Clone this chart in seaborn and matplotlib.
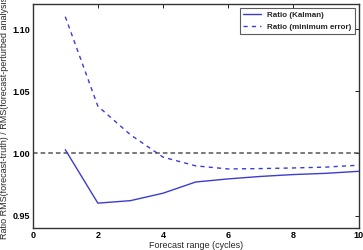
import seaborn as sns
import matplotlib.pyplot as plt
import pandas as pd
import numpy as np

cycles = [1, 2, 3, 4, 5, 6, 7, 8, 9, 10]
ratio_kalman = [1.003, 0.960, 0.962, 0.968, 0.977, 0.9795, 0.9815, 0.983, 0.984, 0.9856]
ratio_min_error = [1.110, 1.038, 1.015, 0.997, 0.990, 0.9875, 0.9878, 0.9883, 0.989, 0.9905]

x_ticks = [0, 2, 4, 6, 8, 10]
y_ticks = [0.95, 1.00, 1.05, 1.10]

sns.set_style('white')
plt.rcParams['font.family'] = ['Liberation Sans', 'DejaVu Sans']

df = pd.DataFrame({'Cycles': cycles, 'Kalman': ratio_kalman, 'MinError': ratio_min_error})

blue = '#3c3cd2'
fig, ax = plt.subplots(figsize=(3.63, 2.5), dpi=100)

ax.axhline(1.0, color='#555555', linestyle=(0, (3, 2)), linewidth=1.1, zorder=1)
sns.lineplot(data=df, x='Cycles', y='Kalman', color=blue, linewidth=1.0,
             label='Ratio (Kalman)', ax=ax)
sns.lineplot(data=df, x='Cycles', y='MinError', color=blue, linewidth=1.0,
             linestyle=(0, (3, 3)), label='Ratio (minimum error)', ax=ax)

ax.set_xlim(0, 10)
ax.set_ylim(0.94, 1.12)
ax.set_xticks(x_ticks)
ax.set_yticks(y_ticks)
ax.set_yticklabels([f'{v:.2f}' for v in y_ticks])
ax.tick_params(direction='in', length=3, width=0.6, top=True, right=True,
               labelsize=6.5, pad=2, colors='black')
for lbl in ax.get_xticklabels() + ax.get_yticklabels():
    lbl.set_fontweight('bold')

ax.set_xlabel('Forecast range (cycles)', fontsize=6.5, labelpad=1)
ax.set_ylabel('Ratio RMS(forecast-truth) / RMS(forecast-perturbed analysis)',
              fontsize=6.5, labelpad=2)

for side in ax.spines.values():
    side.set_color('#333333')
    side.set_linewidth(1.0)

leg = ax.legend(loc='upper right', fontsize=5.8, frameon=True, fancybox=False,
                edgecolor='#333333', handlelength=2.2, borderaxespad=0.5,
                prop={'weight': 'bold', 'size': 5.8})
leg.get_frame().set_linewidth(0.8)

fig.subplots_adjust(left=0.09, right=0.988, top=0.983, bottom=0.088)
fig.savefig('out.png', dpi=100)
